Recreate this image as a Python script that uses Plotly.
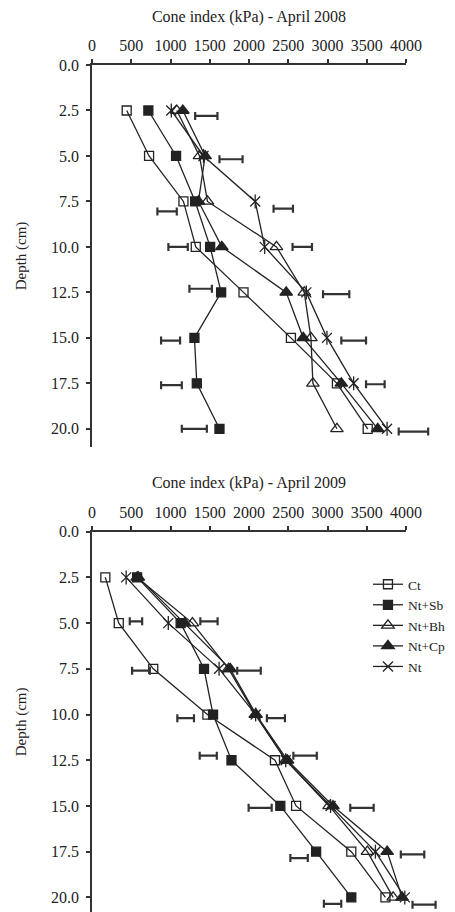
import plotly.graph_objects as go

# ---------------- data ----------------
depth = [2.5, 5.0, 7.5, 10.0, 12.5, 15.0, 17.5, 20.0]
depth_ticks = [0.0, 2.5, 5.0, 7.5, 10.0, 12.5, 15.0, 17.5, 20.0]
x_ticks = [0, 500, 1000, 1500, 2000, 2500, 3000, 3500, 4000]
series_names = ["Ct", "Nt+Sb", "Nt+Bh", "Nt+Cp", "Nt"]

# April 2008 (cone index, kPa)
ct_2008 = [442, 727, 1165, 1322, 1930, 2534, 3120, 3512]
ntsb_2008 = [718, 1071, 1314, 1505, 1645, 1305, 1335, 1624]
ntbh_2008 = [1080, 1369, 1471, 2350, 2704, 2789, 2814, 3120]
ntcp_2008 = [1157, 1441, 1356, 1654, 2474, 2691, 3176, 3640]
nt_2008 = [1010, 1420, 2079, 2200, 2730, 2993, 3333, 3759]

# LSD bars 2008 (low, high, depth position)
lsd_lo_2008 = [1314, 1624, 833, 2313, 973, 2555, 1241, 2943, 880, 3176, 880, 3491, 1144, 3907]
lsd_hi_2008 = [1598, 1918, 1080, 2560, 1220, 2802, 1527, 3278, 1122, 3491, 1144, 3728, 1463, 4282]
lsd_depth_2008 = [2.8, 5.18, 8.05, 7.9, 10.0, 10.0, 12.3, 12.6, 15.15, 15.15, 17.6, 17.55, 20.0, 20.15]

# April 2009 (cone index, kPa)
ct_2009 = [170, 341, 780, 1470, 2331, 2600, 3303, 3738]
ntsb_2009 = [575, 1129, 1427, 1542, 1777, 2399, 2855, 3303]
ntbh_2009 = [575, 1279, 1740, 2080, 2470, 3020, 3508, 3836]
ntcp_2009 = [590, 1180, 1760, 2090, 2490, 3070, 3760, 3950]
nt_2009 = [435, 972, 1619, 2085, 2468, 3039, 3610, 3985]

lsd_lo_2009 = [481, 1380, 511, 1850, 1087, 2228, 1372, 2565, 1995, 3290, 2527, 3934, 2954, 4083]
lsd_hi_2009 = [639, 1600, 737, 2150, 1299, 2458, 1590, 2864, 2289, 3588, 2749, 4233, 3175, 4377]
lsd_depth_2009 = [4.9, 4.9, 7.6, 7.6, 10.2, 10.2, 12.25, 12.25, 15.1, 15.1, 17.85, 17.65, 20.35, 20.4]

# ---------------- styles ----------------
FONT = "Liberation Serif"
INK = "#222222"
styles = {
    "Ct": dict(symbol="square-open", size=9),
    "Nt+Sb": dict(symbol="square", size=9),
    "Nt+Bh": dict(symbol="triangle-up-open", size=11),
    "Nt+Cp": dict(symbol="triangle-up", size=11),
    "Nt": dict(symbol="x-thin-open", size=10),
}

# page body has an 8px margin -> figure is 8px smaller than the window
W, H = 447, 904
ML, MR, MT, MB = 84, 15, 57, 0
AXIS_PX = 314.0
DATA_PX = W - ML - MR
VIS_FRAC = AXIS_PX / DATA_PX
XMAX = 4000

fig = go.Figure()


def add_year(vals, lsd_lo, lsd_hi, lsd_depth, xa, ya, legend):
    for name, v in zip(series_names, vals):
        st = styles[name]
        fig.add_trace(go.Scatter(
            x=v, y=depth, mode="lines+markers", name=name,
            xaxis=xa, yaxis=ya, showlegend=legend, cliponaxis=False,
            line=dict(color=INK, width=1.3),
            marker=dict(symbol=st["symbol"], size=st["size"], color=INK,
                        line=dict(color=INK, width=1.3)),
        ))
        if name == "Nt":
            fig.add_trace(go.Scatter(
                x=v, y=depth, mode="markers", showlegend=False, hoverinfo="skip",
                xaxis=xa, yaxis=ya, cliponaxis=False,
                marker=dict(symbol="line-ns-open", size=10, color=INK,
                            line=dict(color=INK, width=1.3)),
            ))
    centers = [(a + b) / 2 for a, b in zip(lsd_lo, lsd_hi)]
    halves = [(b - a) / 2 for a, b in zip(lsd_lo, lsd_hi)]
    fig.add_trace(go.Scatter(
        x=centers, y=lsd_depth, mode="markers", showlegend=False, hoverinfo="skip",
        xaxis=xa, yaxis=ya, cliponaxis=False,
        marker=dict(size=1, color="rgba(0,0,0,0)"),
        error_x=dict(type="data", array=halves, symmetric=True,
                     color="#333333", thickness=2.2, width=4),
    ))


add_year([ct_2008, ntsb_2008, ntbh_2008, ntcp_2008, nt_2008],
         lsd_lo_2008, lsd_hi_2008, lsd_depth_2008, "x", "y", False)
add_year([ct_2009, ntsb_2009, ntbh_2009, ntcp_2009, nt_2009],
         lsd_lo_2009, lsd_hi_2009, lsd_depth_2009, "x2", "y2", True)

# empty traces so the visible (tick-bearing) axes get their own subplots
fig.add_trace(go.Scatter(x=[], y=[], xaxis="x3", yaxis="y", showlegend=False,
                         hoverinfo="skip"))
fig.add_trace(go.Scatter(x=[], y=[], xaxis="x4", yaxis="y2", showlegend=False,
                         hoverinfo="skip"))

axis_common = dict(
    showline=True, linecolor="#333333", linewidth=1.5,
    ticks="outside", ticklen=4, tickwidth=1.5, tickcolor="#333333",
    showgrid=False, zeroline=False, automargin=False,
    tickfont=dict(family=FONT, size=16, color="#222222"),
)
hidden = dict(visible=False, showgrid=False, zeroline=False, automargin=False,
              domain=[0, 1], range=[0, XMAX / VIS_FRAC])


def vis_x(title, anchor):
    return dict(axis_common, domain=[0, VIS_FRAC], range=[0, XMAX], side="top",
                anchor=anchor, tickvals=x_ticks, ticklabelstandoff=2,
                title=dict(text=title, standoff=11, font=dict(family=FONT, size=16)))


def vis_y(dom, rng, anchor):
    return dict(axis_common, domain=dom, range=rng, anchor=anchor,
                tickvals=depth_ticks, tickformat=".1f", ticklabelstandoff=4,
                title=dict(text="Depth (cm)", standoff=21,
                           font=dict(family=FONT, size=15)))


fig.update_layout(
    width=W, height=H,
    margin=dict(l=ML, r=MR, t=MT, b=MB),
    plot_bgcolor="rgba(0,0,0,0)", paper_bgcolor="white",
    font=dict(family=FONT, size=14, color="#222222"),
    showlegend=True,
    legend=dict(x=0.793, y=0.405, xanchor="left", yanchor="top",
                bgcolor="rgba(0,0,0,0)", tracegroupgap=0,
                font=dict(family=FONT, size=13.5, color="#222222"),
                itemwidth=30),
    xaxis=dict(hidden, anchor="y"),
    xaxis2=dict(hidden, anchor="y2"),
    xaxis3=vis_x("Cone index (kPa) - April 2008", "y"),
    xaxis4=vis_x("Cone index (kPa) - April 2009", "y2"),
    yaxis=vis_y([0.549, 1], [21, 0], "x3"),
    yaxis2=vis_y([0, 0.449], [20.8, 0], "x4"),
)

fig.write_html("out.html")
